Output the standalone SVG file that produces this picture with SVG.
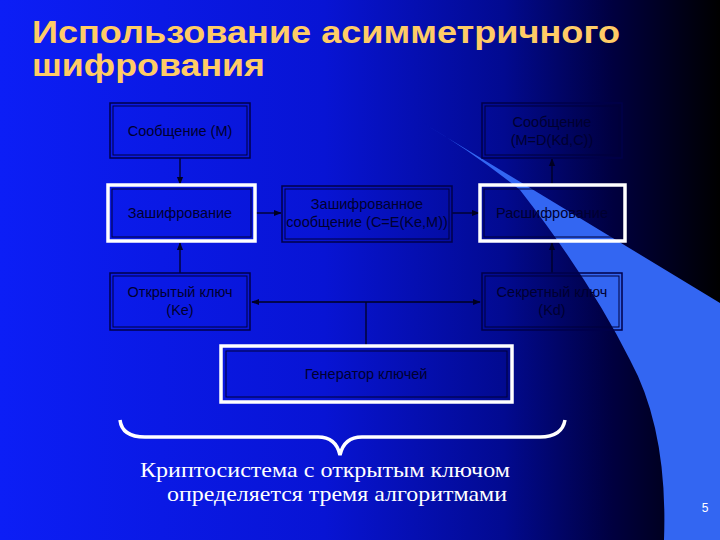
<svg xmlns="http://www.w3.org/2000/svg" width="720" height="540" viewBox="0 0 720 540">
<defs>
<linearGradient id="bg" x1="0" y1="0" x2="1" y2="0">
<stop offset="0" stop-color="#0c1ef6"/>
<stop offset="0.45" stop-color="#0814d4"/>
<stop offset="0.7" stop-color="#020a90"/>
<stop offset="0.85" stop-color="#000040"/>
<stop offset="1" stop-color="#000000"/>
</linearGradient>
<marker id="ah" viewBox="0 0 10 10" refX="9" refY="5" markerWidth="6" markerHeight="6" orient="auto-start-reverse">
<path d="M0,1 L10,5 L0,9 z" fill="#000022"/>
</marker>
<style>
.box{fill:none;stroke:#00004a;stroke-width:1.5}
.inner{fill:none;stroke:#00003a;stroke-width:1}
.hl{fill:none;stroke:#ffffff;stroke-width:3.5}
.lbl{font-family:"Liberation Sans",Arial,sans-serif;font-size:14.5px;fill:#000030;text-anchor:middle}
.conn{stroke:#000022;stroke-width:1.3;fill:none}
.title{font-family:"Liberation Sans",Arial,sans-serif;font-size:32px;font-weight:bold;fill:#ffcc66}
.cap{font-family:"Liberation Serif","Times New Roman",serif;font-size:22px;fill:#ffffff}
</style>
</defs>
<rect width="720" height="540" fill="url(#bg)"/>
<path d="M423,123 L720,303 L720,540 L664,540 Q668,430 630,360 Q590,280 520,190 Q470,150 423,123 Z" fill="#3366f2"/>
<text class="title" x="32" y="43" textLength="588" lengthAdjust="spacingAndGlyphs">Использование асимметричного</text>
<text class="title" x="32" y="76" textLength="233" lengthAdjust="spacingAndGlyphs">шифрования</text>
<g id="connectors">
<line class="conn" x1="180" y1="158" x2="180" y2="184" marker-end="url(#ah)"/>
<line class="conn" x1="180" y1="273" x2="180" y2="243" marker-end="url(#ah)"/>
<line class="conn" x1="255" y1="213" x2="281" y2="213" marker-end="url(#ah)"/>
<line class="conn" x1="452" y1="213" x2="479" y2="213" marker-end="url(#ah)"/>
<line class="conn" x1="552" y1="185" x2="552" y2="159" marker-end="url(#ah)"/>
<line class="conn" x1="552" y1="273" x2="552" y2="243" marker-end="url(#ah)"/>
<line class="conn" x1="366" y1="346" x2="366" y2="302"/>
<line class="conn" x1="252" y1="302" x2="480" y2="302" marker-start="url(#ah)" marker-end="url(#ah)"/>
</g>
<g id="msg">
<rect class="box" x="110" y="103" width="140" height="55"/>
<rect class="inner" x="113" y="106" width="134" height="49"/>
<text class="lbl" x="180" y="136">Сообщение (M)</text>
</g>
<g id="msg2">
<rect class="box" x="482" y="103" width="140" height="55"/>
<rect class="inner" x="485" y="106" width="134" height="49"/>
<text class="lbl" x="552" y="127">Сообщение</text>
<text class="lbl" x="552" y="145">(M=D(Kd,C))</text>
</g>
<g id="enc">
<rect class="inner" x="112" y="189" width="139" height="48"/>
<rect class="hl" x="108" y="185" width="147" height="56"/>
<text class="lbl" x="180" y="218">Зашифрование</text>
</g>
<g id="cmsg">
<rect class="box" x="282" y="186" width="170" height="56"/>
<rect class="inner" x="285" y="189" width="164" height="50"/>
<text class="lbl" x="367" y="209">Зашифрованное</text>
<text class="lbl" x="367" y="227">сообщение (C=E(Ke,M))</text>
</g>
<g id="dec">
<rect class="inner" x="484" y="189" width="137" height="48"/>
<rect class="hl" x="480" y="185" width="145" height="56"/>
<text class="lbl" x="552" y="218">Расшифрование</text>
</g>
<g id="pub">
<rect class="box" x="110" y="273" width="140" height="57"/>
<rect class="inner" x="113" y="276" width="134" height="51"/>
<text class="lbl" x="180" y="297">Открытый ключ</text>
<text class="lbl" x="180" y="315">(Ke)</text>
</g>
<g id="sec">
<rect class="box" x="482" y="273" width="140" height="57"/>
<rect class="inner" x="485" y="276" width="134" height="51"/>
<text class="lbl" x="552" y="297">Секретный ключ</text>
<text class="lbl" x="552" y="315">(Kd)</text>
</g>
<g id="gen">
<rect class="inner" x="226" y="351" width="281" height="46"/>
<rect class="hl" x="221" y="346" width="291" height="56"/>
<text class="lbl" x="366" y="379">Генератор ключей</text>
</g>
<path d="M120,420 Q122,437 145,437 L318,437 Q336,437 340,455 Q344,437 362,437 L540,437 Q562,437 565,420" fill="none" stroke="#ffffff" stroke-width="3.5"/>
<text class="cap" x="140" y="477" textLength="370" lengthAdjust="spacingAndGlyphs">Криптосистема с открытым ключом</text>
<text class="cap" x="167" y="501" textLength="340" lengthAdjust="spacingAndGlyphs">определяется тремя алгоритмами</text>
<text x="705" y="512" font-family="Liberation Sans,Arial,sans-serif" font-size="12" fill="#ffffff" text-anchor="middle">5</text>
</svg>
